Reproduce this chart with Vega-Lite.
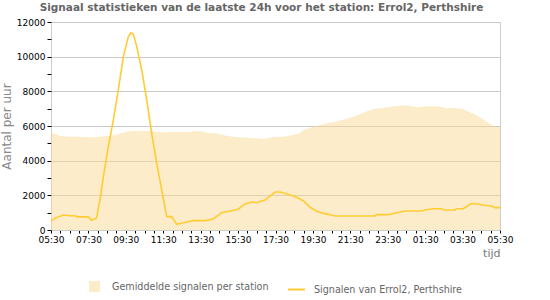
{
  "$schema": "https://vega.github.io/schema/vega-lite/v6.json",
  "width": 449,
  "height": 208,
  "autosize": {"type": "none"},
  "padding": {"left": 51, "top": 22, "right": 50, "bottom": 70},
  "title": {
    "text": "Signaal statistieken van de laatste 24h voor het station: Errol2, Perthshire",
    "fontSize": 10.5,
    "color": "#666666",
    "dx": -14,
    "offset": 5
  },
  "data": {
    "values": [
      {"t": "2024-01-01T05:30", "v": 5650, "s": "Gemiddelde signalen per station"},
      {"t": "2024-01-01T05:36", "v": 5580, "s": "Gemiddelde signalen per station"},
      {"t": "2024-01-01T05:59", "v": 5420, "s": "Gemiddelde signalen per station"},
      {"t": "2024-01-01T06:31", "v": 5380, "s": "Gemiddelde signalen per station"},
      {"t": "2024-01-01T07:25", "v": 5360, "s": "Gemiddelde signalen per station"},
      {"t": "2024-01-01T07:46", "v": 5330, "s": "Gemiddelde signalen per station"},
      {"t": "2024-01-01T08:07", "v": 5380, "s": "Gemiddelde signalen per station"},
      {"t": "2024-01-01T08:34", "v": 5420, "s": "Gemiddelde signalen per station"},
      {"t": "2024-01-01T09:01", "v": 5500, "s": "Gemiddelde signalen per station"},
      {"t": "2024-01-01T09:28", "v": 5650, "s": "Gemiddelde signalen per station"},
      {"t": "2024-01-01T09:49", "v": 5710, "s": "Gemiddelde signalen per station"},
      {"t": "2024-01-01T10:47", "v": 5710, "s": "Gemiddelde signalen per station"},
      {"t": "2024-01-01T11:30", "v": 5620, "s": "Gemiddelde signalen per station"},
      {"t": "2024-01-01T11:57", "v": 5650, "s": "Gemiddelde signalen per station"},
      {"t": "2024-01-01T12:56", "v": 5650, "s": "Gemiddelde signalen per station"},
      {"t": "2024-01-01T13:06", "v": 5710, "s": "Gemiddelde signalen per station"},
      {"t": "2024-01-01T13:34", "v": 5680, "s": "Gemiddelde signalen per station"},
      {"t": "2024-01-01T13:50", "v": 5600, "s": "Gemiddelde signalen per station"},
      {"t": "2024-01-01T14:22", "v": 5580, "s": "Gemiddelde signalen per station"},
      {"t": "2024-01-01T14:53", "v": 5440, "s": "Gemiddelde signalen per station"},
      {"t": "2024-01-01T15:26", "v": 5350, "s": "Gemiddelde signalen per station"},
      {"t": "2024-01-01T16:08", "v": 5310, "s": "Gemiddelde signalen per station"},
      {"t": "2024-01-01T16:51", "v": 5250, "s": "Gemiddelde signalen per station"},
      {"t": "2024-01-01T17:23", "v": 5360, "s": "Gemiddelde signalen per station"},
      {"t": "2024-01-01T17:55", "v": 5380, "s": "Gemiddelde signalen per station"},
      {"t": "2024-01-01T18:28", "v": 5500, "s": "Gemiddelde signalen per station"},
      {"t": "2024-01-01T18:48", "v": 5580, "s": "Gemiddelde signalen per station"},
      {"t": "2024-01-01T19:00", "v": 5770, "s": "Gemiddelde signalen per station"},
      {"t": "2024-01-01T19:31", "v": 5960, "s": "Gemiddelde signalen per station"},
      {"t": "2024-01-01T20:04", "v": 6120, "s": "Gemiddelde signalen per station"},
      {"t": "2024-01-01T20:36", "v": 6230, "s": "Gemiddelde signalen per station"},
      {"t": "2024-01-01T21:08", "v": 6360, "s": "Gemiddelde signalen per station"},
      {"t": "2024-01-01T21:40", "v": 6540, "s": "Gemiddelde signalen per station"},
      {"t": "2024-01-01T22:12", "v": 6770, "s": "Gemiddelde signalen per station"},
      {"t": "2024-01-01T22:44", "v": 6980, "s": "Gemiddelde signalen per station"},
      {"t": "2024-01-01T23:16", "v": 7040, "s": "Gemiddelde signalen per station"},
      {"t": "2024-01-01T23:49", "v": 7140, "s": "Gemiddelde signalen per station"},
      {"t": "2024-01-02T00:30", "v": 7190, "s": "Gemiddelde signalen per station"},
      {"t": "2024-01-02T01:04", "v": 7080, "s": "Gemiddelde signalen per station"},
      {"t": "2024-01-02T01:36", "v": 7140, "s": "Gemiddelde signalen per station"},
      {"t": "2024-01-02T02:12", "v": 7140, "s": "Gemiddelde signalen per station"},
      {"t": "2024-01-02T02:34", "v": 7040, "s": "Gemiddelde signalen per station"},
      {"t": "2024-01-02T03:16", "v": 7020, "s": "Gemiddelde signalen per station"},
      {"t": "2024-01-02T03:32", "v": 6960, "s": "Gemiddelde signalen per station"},
      {"t": "2024-01-02T03:54", "v": 6800, "s": "Gemiddelde signalen per station"},
      {"t": "2024-01-02T04:16", "v": 6600, "s": "Gemiddelde signalen per station"},
      {"t": "2024-01-02T04:37", "v": 6380, "s": "Gemiddelde signalen per station"},
      {"t": "2024-01-02T04:58", "v": 6120, "s": "Gemiddelde signalen per station"},
      {"t": "2024-01-02T05:14", "v": 5960, "s": "Gemiddelde signalen per station"},
      {"t": "2024-01-02T05:30", "v": 5960, "s": "Gemiddelde signalen per station"},
      {"t": "2024-01-01T05:30", "v": 520, "s": "Signalen van Errol2, Perthshire"},
      {"t": "2024-01-01T05:45", "v": 700, "s": "Signalen van Errol2, Perthshire"},
      {"t": "2024-01-01T06:10", "v": 865, "s": "Signalen van Errol2, Perthshire"},
      {"t": "2024-01-01T06:30", "v": 826, "s": "Signalen van Errol2, Perthshire"},
      {"t": "2024-01-01T06:47", "v": 826, "s": "Signalen van Errol2, Perthshire"},
      {"t": "2024-01-01T06:55", "v": 760, "s": "Signalen van Errol2, Perthshire"},
      {"t": "2024-01-01T07:30", "v": 755, "s": "Signalen van Errol2, Perthshire"},
      {"t": "2024-01-01T07:40", "v": 560, "s": "Signalen van Errol2, Perthshire"},
      {"t": "2024-01-01T07:56", "v": 690, "s": "Signalen van Errol2, Perthshire"},
      {"t": "2024-01-01T08:07", "v": 1730, "s": "Signalen van Errol2, Perthshire"},
      {"t": "2024-01-01T08:18", "v": 3080, "s": "Signalen van Errol2, Perthshire"},
      {"t": "2024-01-01T08:34", "v": 4810, "s": "Signalen van Errol2, Perthshire"},
      {"t": "2024-01-01T08:50", "v": 6350, "s": "Signalen van Errol2, Perthshire"},
      {"t": "2024-01-01T09:06", "v": 8080, "s": "Signalen van Errol2, Perthshire"},
      {"t": "2024-01-01T09:22", "v": 10000, "s": "Signalen van Errol2, Perthshire"},
      {"t": "2024-01-01T09:38", "v": 11150, "s": "Signalen van Errol2, Perthshire"},
      {"t": "2024-01-01T09:46", "v": 11380, "s": "Signalen van Errol2, Perthshire"},
      {"t": "2024-01-01T09:54", "v": 11300, "s": "Signalen van Errol2, Perthshire"},
      {"t": "2024-01-01T10:05", "v": 10580, "s": "Signalen van Errol2, Perthshire"},
      {"t": "2024-01-01T10:21", "v": 9230, "s": "Signalen van Errol2, Perthshire"},
      {"t": "2024-01-01T10:37", "v": 7500, "s": "Signalen van Errol2, Perthshire"},
      {"t": "2024-01-01T10:53", "v": 5580, "s": "Signalen van Errol2, Perthshire"},
      {"t": "2024-01-01T11:09", "v": 3850, "s": "Signalen van Errol2, Perthshire"},
      {"t": "2024-01-01T11:25", "v": 2310, "s": "Signalen van Errol2, Perthshire"},
      {"t": "2024-01-01T11:41", "v": 770, "s": "Signalen van Errol2, Perthshire"},
      {"t": "2024-01-01T11:57", "v": 770, "s": "Signalen van Errol2, Perthshire"},
      {"t": "2024-01-01T12:13", "v": 330, "s": "Signalen van Errol2, Perthshire"},
      {"t": "2024-01-01T12:34", "v": 420, "s": "Signalen van Errol2, Perthshire"},
      {"t": "2024-01-01T13:06", "v": 540, "s": "Signalen van Errol2, Perthshire"},
      {"t": "2024-01-01T13:44", "v": 540, "s": "Signalen van Errol2, Perthshire"},
      {"t": "2024-01-01T14:11", "v": 635, "s": "Signalen van Errol2, Perthshire"},
      {"t": "2024-01-01T14:37", "v": 1000, "s": "Signalen van Errol2, Perthshire"},
      {"t": "2024-01-01T15:10", "v": 1115, "s": "Signalen van Errol2, Perthshire"},
      {"t": "2024-01-01T15:30", "v": 1190, "s": "Signalen van Errol2, Perthshire"},
      {"t": "2024-01-01T15:52", "v": 1500, "s": "Signalen van Errol2, Perthshire"},
      {"t": "2024-01-01T16:14", "v": 1615, "s": "Signalen van Errol2, Perthshire"},
      {"t": "2024-01-01T16:30", "v": 1575, "s": "Signalen van Errol2, Perthshire"},
      {"t": "2024-01-01T16:56", "v": 1730, "s": "Signalen van Errol2, Perthshire"},
      {"t": "2024-01-01T17:29", "v": 2190, "s": "Signalen van Errol2, Perthshire"},
      {"t": "2024-01-01T17:45", "v": 2190, "s": "Signalen van Errol2, Perthshire"},
      {"t": "2024-01-01T18:17", "v": 2020, "s": "Signalen van Errol2, Perthshire"},
      {"t": "2024-01-01T18:38", "v": 1885, "s": "Signalen van Errol2, Perthshire"},
      {"t": "2024-01-01T18:59", "v": 1690, "s": "Signalen van Errol2, Perthshire"},
      {"t": "2024-01-01T19:21", "v": 1310, "s": "Signalen van Errol2, Perthshire"},
      {"t": "2024-01-01T19:42", "v": 1080, "s": "Signalen van Errol2, Perthshire"},
      {"t": "2024-01-01T20:04", "v": 960, "s": "Signalen van Errol2, Perthshire"},
      {"t": "2024-01-01T20:25", "v": 885, "s": "Signalen van Errol2, Perthshire"},
      {"t": "2024-01-01T20:41", "v": 810, "s": "Signalen van Errol2, Perthshire"},
      {"t": "2024-01-01T21:51", "v": 810, "s": "Signalen van Errol2, Perthshire"},
      {"t": "2024-01-01T22:50", "v": 810, "s": "Signalen van Errol2, Perthshire"},
      {"t": "2024-01-01T22:55", "v": 885, "s": "Signalen van Errol2, Perthshire"},
      {"t": "2024-01-01T23:32", "v": 885, "s": "Signalen van Errol2, Perthshire"},
      {"t": "2024-01-01T23:59", "v": 1000, "s": "Signalen van Errol2, Perthshire"},
      {"t": "2024-01-02T00:26", "v": 1095, "s": "Signalen van Errol2, Perthshire"},
      {"t": "2024-01-02T01:19", "v": 1095, "s": "Signalen van Errol2, Perthshire"},
      {"t": "2024-01-02T01:30", "v": 1155, "s": "Signalen van Errol2, Perthshire"},
      {"t": "2024-01-02T01:56", "v": 1230, "s": "Signalen van Errol2, Perthshire"},
      {"t": "2024-01-02T02:23", "v": 1230, "s": "Signalen van Errol2, Perthshire"},
      {"t": "2024-01-02T02:29", "v": 1155, "s": "Signalen van Errol2, Perthshire"},
      {"t": "2024-01-02T03:06", "v": 1155, "s": "Signalen van Errol2, Perthshire"},
      {"t": "2024-01-02T03:11", "v": 1230, "s": "Signalen van Errol2, Perthshire"},
      {"t": "2024-01-02T03:32", "v": 1230, "s": "Signalen van Errol2, Perthshire"},
      {"t": "2024-01-02T03:49", "v": 1425, "s": "Signalen van Errol2, Perthshire"},
      {"t": "2024-01-02T03:59", "v": 1520, "s": "Signalen van Errol2, Perthshire"},
      {"t": "2024-01-02T04:20", "v": 1500, "s": "Signalen van Errol2, Perthshire"},
      {"t": "2024-01-02T04:37", "v": 1425, "s": "Signalen van Errol2, Perthshire"},
      {"t": "2024-01-02T05:04", "v": 1385, "s": "Signalen van Errol2, Perthshire"},
      {"t": "2024-01-02T05:14", "v": 1290, "s": "Signalen van Errol2, Perthshire"},
      {"t": "2024-01-02T05:30", "v": 1290, "s": "Signalen van Errol2, Perthshire"}
    ]
  },
  "encoding": {
    "x": {
      "field": "t",
      "type": "temporal",
      "axis": {
        "title": "tijd",
        "titleAnchor": "end",
        "titleFontSize": 11,
        "titleFontWeight": "normal",
        "titleColor": "#777777",
        "titlePadding": 3,
        "tickCount": 48,
        "labelExpr": "minutes(datum.value) == 30 && hours(datum.value) % 2 == 1 ? timeFormat(datum.value, '%H:%M') : ''",
        "labelFontSize": 9,
        "labelColor": "#000000",
        "labelOverlap": false,
        "labelFlush": false,
        "labelPadding": 2,
        "tickSize": 3,
        "tickColor": "#000000",
        "domainColor": "#cccccc",
        "grid": false
      }
    },
    "y": {
      "field": "v",
      "type": "quantitative",
      "scale": {"domain": [0, 12000], "nice": false},
      "axis": {
        "title": "Aantal per uur",
        "titleFontSize": 12,
        "titleFontWeight": "normal",
        "titleColor": "#888888",
        "titlePadding": 3,
        "values": [0, 1000, 2000, 3000, 4000, 5000, 6000, 7000, 8000, 9000, 10000, 11000, 12000],
        "labelExpr": "datum.value % 2000 == 0 ? format(datum.value, 'd') : ''",
        "labelFontSize": 9,
        "labelColor": "#000000",
        "labelPadding": 2,
        "tickSize": 4,
        "tickColor": "#000000",
        "domain": false,
        "gridColor": "#c8c8c8",
        "gridOpacity": {"condition": {"test": "datum.value % 2000 != 0", "value": 0}, "value": 1}
      }
    }
  },
  "layer": [
    {
      "transform": [{"filter": "datum.s == 'Gemiddelde signalen per station'"}],
      "mark": {"type": "area", "opacity": 0.5},
      "encoding": {
        "fill": {
          "field": "s",
          "type": "nominal",
          "scale": {"range": ["#fbd993"]},
          "legend": {
            "title": null,
            "orient": "none",
            "legendX": 37,
            "legendY": 258,
            "symbolType": "square",
            "symbolSize": 121,
            "labelFontSize": 9.6,
            "labelColor": "#666666",
            "labelOffset": 11
          }
        }
      }
    },
    {
      "transform": [{"filter": "datum.s == 'Signalen van Errol2, Perthshire'"}],
      "mark": {"type": "line", "strokeWidth": 1.6},
      "encoding": {
        "stroke": {
          "field": "s",
          "type": "nominal",
          "scale": {"range": ["#ffcc33"]},
          "legend": {
            "title": null,
            "orient": "none",
            "legendX": 236,
            "legendY": 258,
            "symbolType": "stroke",
            "symbolSize": 289,
            "symbolStrokeWidth": 2,
            "labelFontSize": 9.6,
            "labelColor": "#666666",
            "labelOffset": 8
          }
        }
      }
    }
  ],
  "config": {
    "view": {"stroke": "#cccccc"},
    "font": "DejaVu Sans"
  }
}
